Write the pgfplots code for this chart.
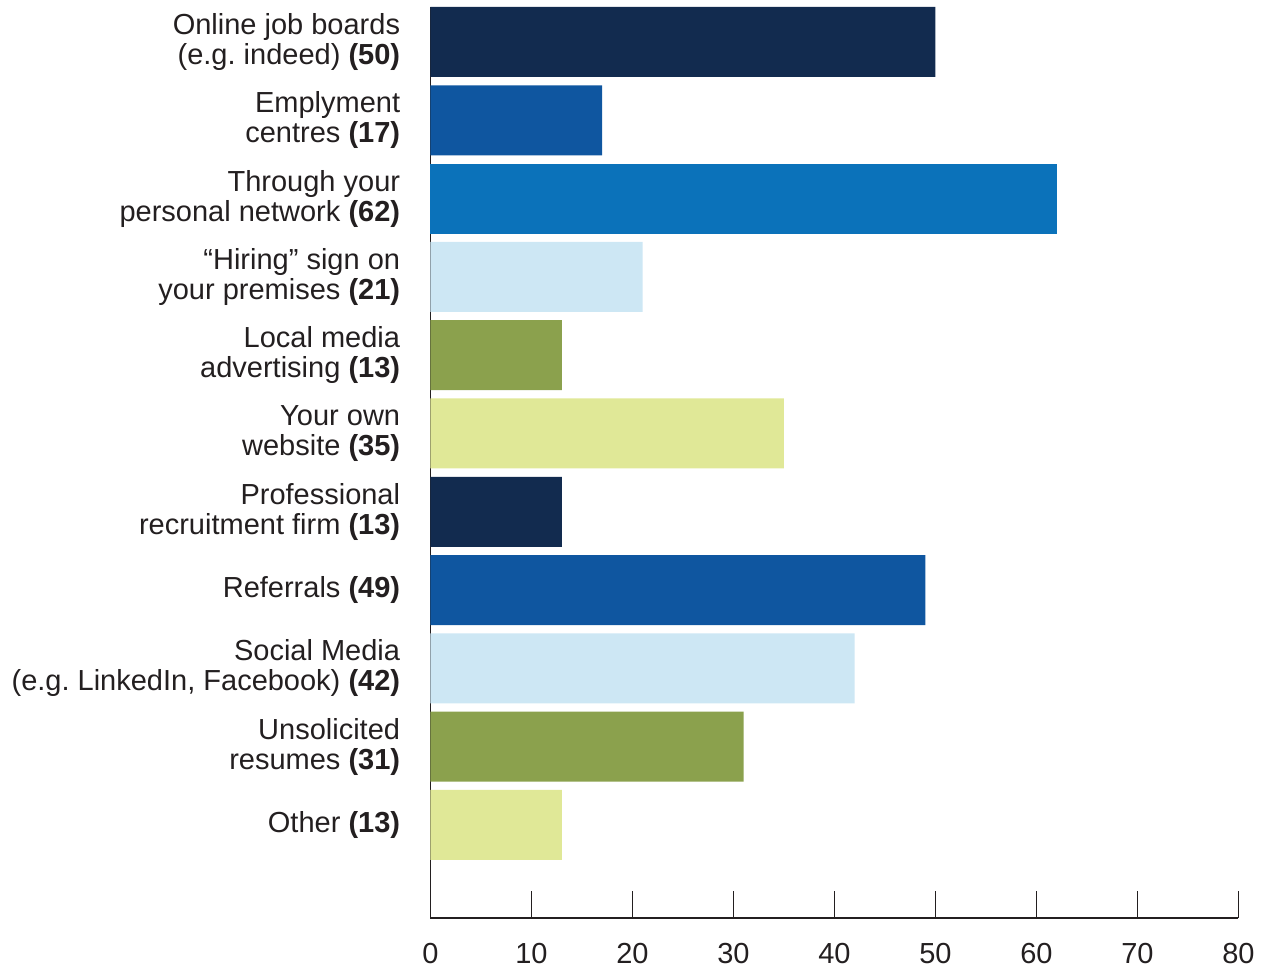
\documentclass[border=0pt]{standalone}
\usepackage{fontspec}
\setmainfont{Liberation Sans}
\usepackage{pgfplots}
\pgfplotsset{compat=1.18}
\frenchspacing
\definecolor{txt}{HTML}{231F20}
\definecolor{cnavy}{HTML}{122B4F}
\definecolor{cblue}{HTML}{0F56A0}
\definecolor{cmid}{HTML}{0B72BA}
\definecolor{clight}{HTML}{CDE7F4}
\definecolor{colive}{HTML}{8BA14D}
\definecolor{cyellow}{HTML}{E0E897}
\begin{document}
\begin{tikzpicture}
\begin{axis}[
  x=5.05pt, y=39.15pt,
  xmin=0, xmax=80, ymin=-1.188, ymax=10.447,
  axis x line=bottom, axis y line=left,
  axis line style={draw=txt, line width=0.75pt, -},
  xbar, bar width=35pt, bar shift=0pt,
  xtick={0,10,...,80},
  tick align=inside,
  major tick length=13.5pt,
  x tick style={draw=txt, line width=0.75pt},
  y tick style={draw=none},
  ytick={0,...,10},
  yticklabels={
    {Other \textbf{(13)}},
    {Unsolicited\\resumes \textbf{(31)}},
    {Social Media\\(e.g. LinkedIn, Facebook) \textbf{(42)}},
    {Referrals \textbf{(49)}},
    {Professional\\recruitment firm \textbf{(13)}},
    {Your own\\website \textbf{(35)}},
    {Local media\\advertising \textbf{(13)}},
    {“Hiring” sign on\\your premises \textbf{(21)}},
    {Through your\\personal network \textbf{(62)}},
    {Emplyment\\centres \textbf{(17)}},
    {Online job boards\\(e.g. indeed) \textbf{(50)}}
  },
  yticklabel style={align=right, anchor=east, inner sep=0pt, xshift=-15pt, font=\fontsize{14.5}{15}\selectfont\frenchspacing, text=txt},
  xticklabel style={anchor=north, inner sep=0pt, yshift=-12.5pt, font=\fontsize{14.5}{15}\selectfont, text=txt},
  /pgf/number format/assume math mode=true,
  clip=false,
]
\addplot[fill=cnavy, draw=none] coordinates {(50,10) (13,4)};
\addplot[fill=cblue, draw=none] coordinates {(17,9) (49,3)};
\addplot[fill=cmid, draw=none] coordinates {(62,8)};
\addplot[fill=clight, draw=none] coordinates {(21,7) (42,2)};
\addplot[fill=colive, draw=none] coordinates {(13,6) (31,1)};
\addplot[fill=cyellow, draw=none] coordinates {(35,5) (13,0)};
\end{axis}
\path (current axis.south west) ++(-215.25pt,-27pt) coordinate (bbA);
\path (current axis.north east) ++(14.25pt,3.5pt) coordinate (bbB);
\path (bbA) rectangle (bbB);
\end{tikzpicture}
\end{document}
